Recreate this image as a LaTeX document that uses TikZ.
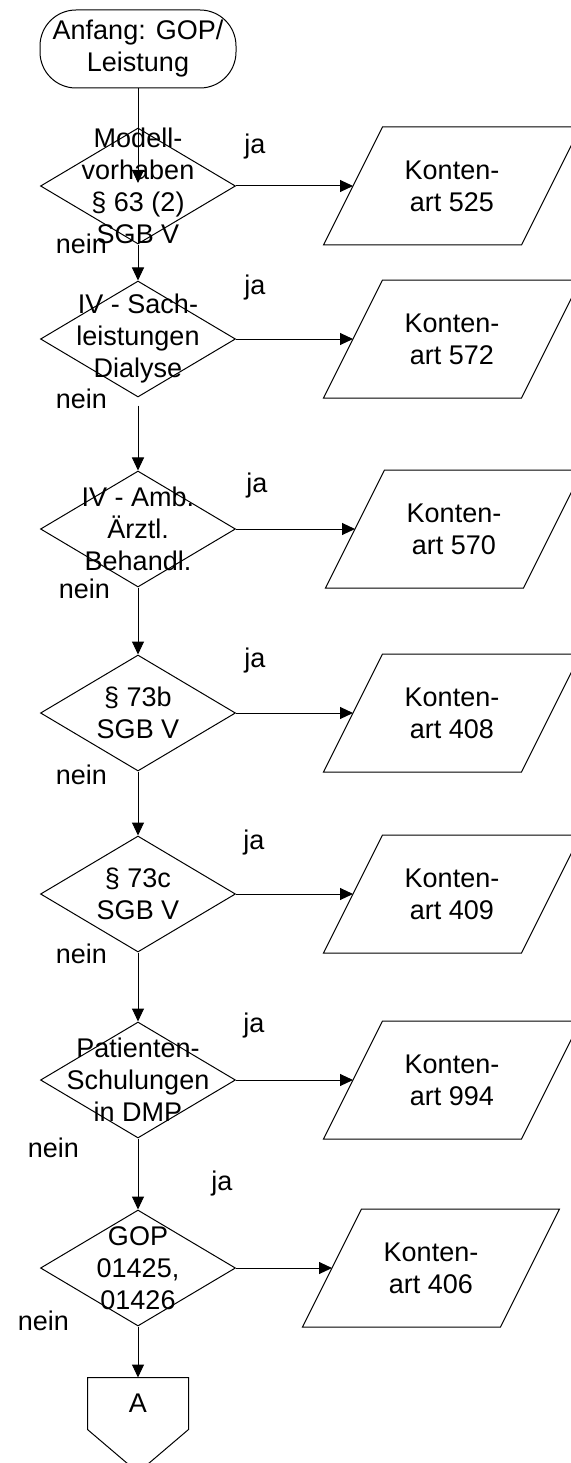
\documentclass[tikz,border=0pt]{standalone}
\usepackage{fontspec}
\setmainfont{Liberation Sans}
\usetikzlibrary{arrows.meta,shapes.geometric,positioning}

\tikzset{
  entry/.style={draw,rounded corners=36pt,minimum width=196pt,minimum height=78pt,align=center},
  decision/.style={draw,diamond,minimum width=195pt,minimum height=116pt,inner sep=0pt},
  konto/.style={minimum width=197pt,minimum height=117pt,align=center},
  answer/.style={anchor=base},
  noanswer/.style={anchor=base west},
}

\begin{document}
\begin{tikzpicture}[x=1pt,y=-1pt,>={Triangle[length=13pt,width=12pt]},line width=1pt,
    font=\fontsize{27pt}{32pt}\selectfont]
  \useasboundingbox (0,0) rectangle (570,1463);

  \node[entry] (start) at (138,49) {Anfang: GOP/\\Leistung};

  % Abfragen
  \node[decision] (d1) [below=39pt of start,label={[align=center]center:Modell-\\vorhaben\\§ 63 (2)\\SGB V}] {};
  \node[decision] (d2) [below=36pt of d1,label={[align=center]center:IV - Sach-\\leistungen\\Dialyse}] {};
  \node[decision] (d3) [below=73pt of d2,label={[align=center]center:IV - Amb.\\Ärztl.\\Behandl.}] {};
  \node[decision] (d4) [below=67pt of d3,label={[align=center]center:§ 73b\\SGB V}] {};
  \node[decision] (d5) [below=64pt of d4,label={[align=center]center:§ 73c\\SGB V}] {};
  \node[decision] (d6) [below=69pt of d5,label={[align=center]center:Patienten-\\Schulungen\\in DMP}] {};
  \node[decision] (d7) [below=71pt of d6,label={[align=center]center:GOP\\01425,\\01426}] {};

  \node[minimum width=100pt,minimum height=51pt] (conn) [below=51pt of d7] {\raisebox{-8pt}{A}};
  \draw (conn.north west) -- (conn.north east) -- (conn.south east)
    -- ([yshift=-43pt]conn.south) -- (conn.south west) -- cycle;

  % Kontenarten
  \node[konto] (k525) [right=117pt of d1] {Konten-\\art 525};
  \node[konto] (k572) [right=117pt of d2] {Konten-\\art 572};
  \node[konto] (k570) [right=119pt of d3] {Konten-\\art 570};
  \node[konto] (k408) [right=117pt of d4] {Konten-\\art 408};
  \node[konto] (k409) [right=117pt of d5] {Konten-\\art 409};
  \node[konto] (k994) [right=117pt of d6] {Konten-\\art 994};
  \node[konto] (k406) [right=96pt of d7] {Konten-\\art 406};
  \foreach \k in {k525,k572,k570,k408,k409,k994,k406}
    \draw ([xshift=-29.5pt]\k.south west) -- ([xshift=29.5pt]\k.north west)
      -- ([xshift=29.5pt]\k.north east) -- ([xshift=-29.5pt]\k.south east) -- cycle;

  \draw[->] (start.south) -- ([yshift=3pt]d1.center);
  \draw[->] (d1) -- (d2);
  \draw[->,shorten <=8pt] (d2) -- (d3);
  \draw[->] (d3) -- (d4);
  \draw[->] (d4) -- (d5);
  \draw[->] (d5) -- (d6);
  \draw[->] (d6) -- (d7);
  \draw[->] (d7) -- (conn);

  \draw[->] (d1) -- (k525);
  \draw[->] (d2) -- (k572);
  \draw[->] (d3) -- (k570);
  \draw[->] (d4) -- (k408);
  \draw[->] (d5) -- (k409);
  \draw[->] (d6) -- (k994);
  \draw[->] (d7) -- (k406);

  % ja / nein
  \node[answer] (ja1) at (255,154) {ja};
  \node[answer] (ja2) at (255,294) {ja};
  \node[answer] (ja3) at (257,492) {ja};
  \node[answer] (ja4) at (255,667) {ja};
  \node[answer] (ja5) at (254,849) {ja};
  \node[answer] (ja6) at (254,1032) {ja};
  \node[answer] (ja7) at (222,1190) {ja};
  \node[noanswer] (nein1) at (52,254) {nein};
  \node[noanswer] (nein2) at (52,408) {nein};
  \node[noanswer] (nein3) at (55,598) {nein};
  \node[noanswer] (nein4) at (52,784) {nein};
  \node[noanswer] (nein5) at (52,963) {nein};
  \node[noanswer] (nein6) at (24,1157) {nein};
  \node[noanswer] (nein7) at (14,1330) {nein};
\end{tikzpicture}
\end{document}
